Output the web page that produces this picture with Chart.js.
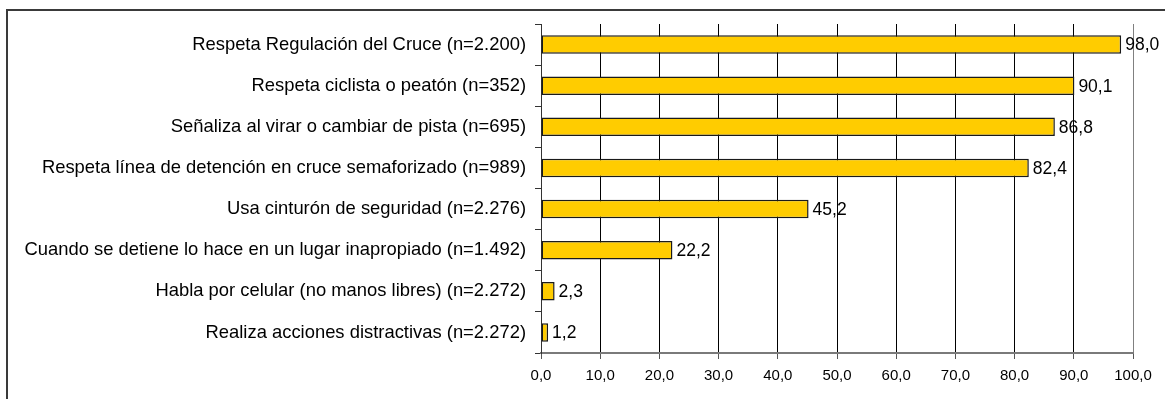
<!DOCTYPE html>
<html>
<head>
<meta charset="utf-8">
<script src="https://cdn.jsdelivr.net/npm/chart.js@4/dist/chart.umd.min.js"></script>
<style>
  html, body { margin: 0; padding: 0; background: #fff; }
  #wrap { position: relative; width: 1165px; height: 399px; overflow: hidden; }
  #frame { position: absolute; left: 6px; top: 9px; width: 1200px; height: 420px;
           border-top: 2px solid #3a3a3a; border-left: 2px solid #3a3a3a; box-sizing: border-box; }
  canvas { position: absolute; left: 0; top: 0; }
</style>
</head>
<body>
<div id="wrap">
  <div id="frame"></div>
  <canvas id="c" width="1165" height="399"></canvas>
</div>
<script>
const categories = [
  "Respeta Regulación del Cruce (n=2.200)",
  "Respeta ciclista o peatón (n=352)",
  "Señaliza al virar o cambiar de pista (n=695)",
  "Respeta línea de detención en cruce semaforizado (n=989)",
  "Usa cinturón de seguridad (n=2.276)",
  "Cuando se detiene lo hace en un lugar inapropiado (n=1.492)",
  "Habla por celular (no manos libres) (n=2.272)",
  "Realiza acciones distractivas (n=2.272)"
];
const values = [98.0, 90.1, 86.8, 82.4, 45.2, 22.2, 2.3, 1.2];
const xMin = 0, xMax = 100, xStep = 10;

const fmt = v => Number(v).toFixed(1).replace('.', ',');
const FONT = "'Liberation Sans', Arial, sans-serif";

const valueLabels = {
  id: 'valueLabels',
  afterDatasetsDraw(chart) {
    const ctx = chart.ctx;
    const meta = chart.getDatasetMeta(0);
    ctx.save();
    ctx.font = "17.5px " + FONT;
    ctx.fillStyle = '#000';
    ctx.textBaseline = 'middle';
    ctx.textAlign = 'left';
    meta.data.forEach((bar, i) => {
      ctx.fillText(fmt(chart.data.datasets[0].data[i]), bar.x + 4, bar.y + 1);
    });
    ctx.restore();
  }
};

new Chart(document.getElementById('c'), {
  type: 'bar',
  data: {
    labels: categories,
    datasets: [{
      data: values,
      backgroundColor: '#FFCC00',
      borderColor: '#1a1a1a',
      borderWidth: 1.5,
      borderSkipped: false,
      barPercentage: 0.45,
      categoryPercentage: 1.0
    }]
  },
  options: {
    indexAxis: 'y',
    responsive: false,
    animation: false,
    devicePixelRatio: 1,
    layout: { padding: { top: 24, right: 32, left: 0, bottom: 0 } },
    plugins: { legend: { display: false }, tooltip: { enabled: false }, title: { display: false } },
    scales: {
      x: {
        min: xMin, max: xMax,
        ticks: {
          stepSize: xStep,
          callback: v => fmt(v),
          font: { family: FONT, size: 15 },
          color: '#000',
          padding: 8,
          maxRotation: 0
        },
        grid: {
          color: ctx => (ctx.index === 10 ? '#808080' : '#000'),
          lineWidth: 1,
          tickLength: 6,
          tickColor: '#555'
        },
        border: { display: true, color: '#7a7a7a', width: 2 },
        afterFit: s => { s.height = 46; }
      },
      y: {
        ticks: {
          font: { family: FONT, size: 18.4 },
          color: '#000',
          padding: 9,
          autoSkip: false
        },
        grid: {
          offset: true,
          drawOnChartArea: false,
          tickLength: 6,
          tickColor: '#333'
        },
        border: { display: true, color: '#333', width: 1 },
        afterFit: s => { s.width = 541; }
      }
    }
  },
  plugins: [valueLabels]
});
</script>
</body>
</html>
